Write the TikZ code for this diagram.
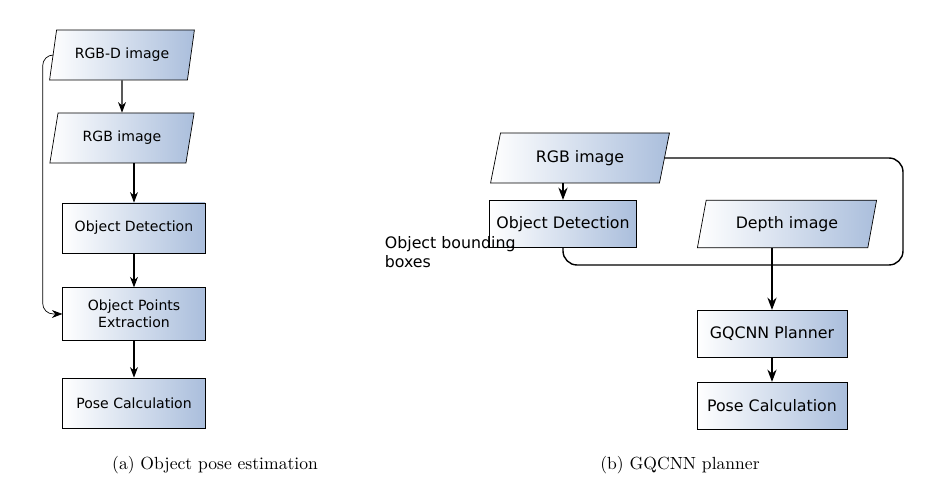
\documentclass[tikz,border=0pt]{standalone}
\usepackage{fontspec}
\newfontfamily\diagfont{DejaVu Sans}
\usetikzlibrary{shapes.geometric,arrows.meta,positioning}
\definecolor{boxblue}{RGB}{170,190,220}
\begin{document}
\begin{tikzpicture}[
        x=0.02cm, y=-0.02cm,
        box/.style={draw, rectangle, left color=white, right color=boxblue, inner sep=1pt},
        data/.style={draw, trapezium, trapezium left angle=73, trapezium right angle=107,
            trapezium stretches=true, left color=white, right color=boxblue, inner sep=1pt},
        sm/.style={font=\diagfont\footnotesize},
        lg/.style={font=\diagfont\small},
        arr/.style={-{Stealth[length=7pt]}, thick},
        sarr/.style={-{Stealth[length=6pt]}, semithick}
    ]
        \useasboundingbox (0,0) rectangle (927,499);
        % (a) pose estimation
        \node [data, sm, minimum width=2.9cm, minimum height=1cm] (rgbd) at (122,55) {RGB-D image};
        \node [data, sm, minimum width=2.9cm, minimum height=1cm] (rgbA) at (122,138) {RGB image};
        \node [box, sm, minimum width=2.85cm, minimum height=1cm] (odA) at (134,228) {Object Detection};
        \node [box, sm, minimum width=2.85cm, minimum height=1.05cm, align=center] (ope) at (134,314) {Object Points\\Extraction};
        \node [box, sm, minimum width=2.85cm, minimum height=1cm] (pcA) at (134,403) {Pose Calculation};
        \draw[sarr] (rgbd.south -| rgbA) -- (rgbA);
        \draw[sarr] (rgbA.south -| odA) -- (odA);
        \draw[sarr] (odA) -- (ope);
        \draw[sarr] (ope) -- (pcA);
        \draw[sarr, thin, rounded corners=6] (rgbd.west) -- ++(-10,0) |- (ope.west);
        \node [font=\normalsize] (capA) at (215,465) {(a) Object pose estimation};
        % (b) GQCNN planner
        \node [data, lg, minimum width=3.6cm, minimum height=1cm] (rgbB) at (580,158) {RGB image};
        \node [box, lg, minimum width=2.95cm, minimum height=0.95cm] (odB) at (563,224) {Object Detection};
        \node [data, lg, minimum width=3.6cm, minimum height=0.95cm] (depth) at (787,224) {Depth image};
        \node [box, lg, minimum width=3cm, minimum height=0.95cm] (gq) at (772,334) {GQCNN Planner};
        \node [box, lg, minimum width=3cm, minimum height=0.95cm] (pcB) at (772,406) {Pose Calculation};
        \node [font=\diagfont\small, align=left, anchor=north east, inner sep=0pt] (obb) at (516,236) {Object bounding\\boxes};
        \coordinate (j) at (gq.north |- 0,265);
        \coordinate (jr) at (903,265);
        \draw[arr] (rgbB.south -| odB) -- (odB);
        \draw[thick, rounded corners=8] (rgbB.east) -| (jr) -- (j);
        \draw[thick, rounded corners=8] (odB.south) |- (j);
        \draw[arr] (depth.south -| gq.north) -- (gq.north);
        \draw[arr] (gq) -- (pcB);
        \node [font=\normalsize] (capB) at (680,465) {(b) GQCNN planner};
    \end{tikzpicture}
\end{document}
